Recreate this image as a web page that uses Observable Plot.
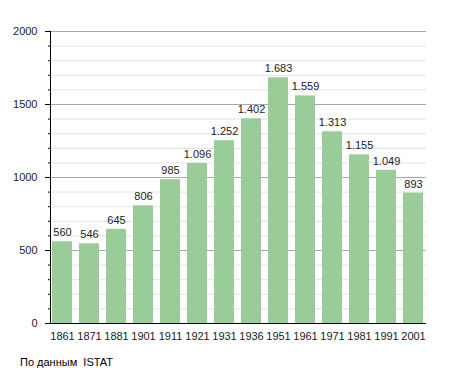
<!DOCTYPE html>
<html>
<head>
<meta charset="utf-8">
<script src="https://cdn.jsdelivr.net/npm/d3@7"></script>
<script src="https://cdn.jsdelivr.net/npm/@observablehq/plot@0.6"></script>
<style>
  body { margin: 0; background: #fff; font-family: "Liberation Sans", Arial, sans-serif; }
  #chart svg { display: block; }
  #caption { font-size: 11px; color: #000; margin: 11px 0 0 20px; }
</style>
</head>
<body>
<div id="chart"></div>
<div id="caption">По данным&nbsp; ISTAT</div>
<script>
const years = ["1861","1871","1881","1901","1911","1921","1931","1936","1951","1961","1971","1981","1991","2001"];
const population = [560, 546, 645, 806, 985, 1096, 1252, 1402, 1683, 1559, 1313, 1155, 1049, 893];
const majorTicks = [0, 500, 1000, 1500, 2000];
const minorTicks = d3.range(0, 2001, 100);

const data = years.map((y, i) => ({year: y, value: population[i]}));
const fmt = d3.formatLocale({thousands: ".", grouping: [3], decimal: ",", currency: ["", ""]}).format(",");

const chart = Plot.plot({
  width: 455,
  height: 345,
  marginLeft: 50,
  marginRight: 29,
  marginTop: 31,
  marginBottom: 22,
  style: {fontFamily: "Liberation Sans, Arial, sans-serif", fontSize: "11px", color: "#000", background: "#fff"},
  x: {domain: years, paddingInner: 0.25, paddingOuter: 0.05, label: null},
  y: {domain: [0, 2000], label: null},
  marks: [
    Plot.ruleY(minorTicks.filter(d => d % 500 !== 0), {stroke: "#e2e2e2", strokeWidth: 1}),
    Plot.ruleY(majorTicks.filter(d => d > 0), {stroke: "#a8a8a8", strokeWidth: 1}),
    Plot.barY(data, {x: "year", y: "value", fill: "#99cc99"}),
    Plot.text(data, {x: "year", y: "value", text: d => fmt(d.value), dy: -9, fontSize: 11, fill: "#222"}),
    Plot.axisY({ticks: minorTicks, tickSize: 2, text: null, stroke: "#000"}),
    Plot.axisY({ticks: majorTicks, tickSize: 5, tickPadding: 8, tickFormat: "d", label: null, stroke: "#000", fill: "#222"}),
    Plot.axisX({tickSize: 0, tickPadding: 9, label: null, fill: "#222"}),
    Plot.ruleY([0], {stroke: "#000"}),
    Plot.frame({anchor: "left", stroke: "#000"})
  ]
});
document.getElementById("chart").appendChild(chart);
</script>
</body>
</html>
